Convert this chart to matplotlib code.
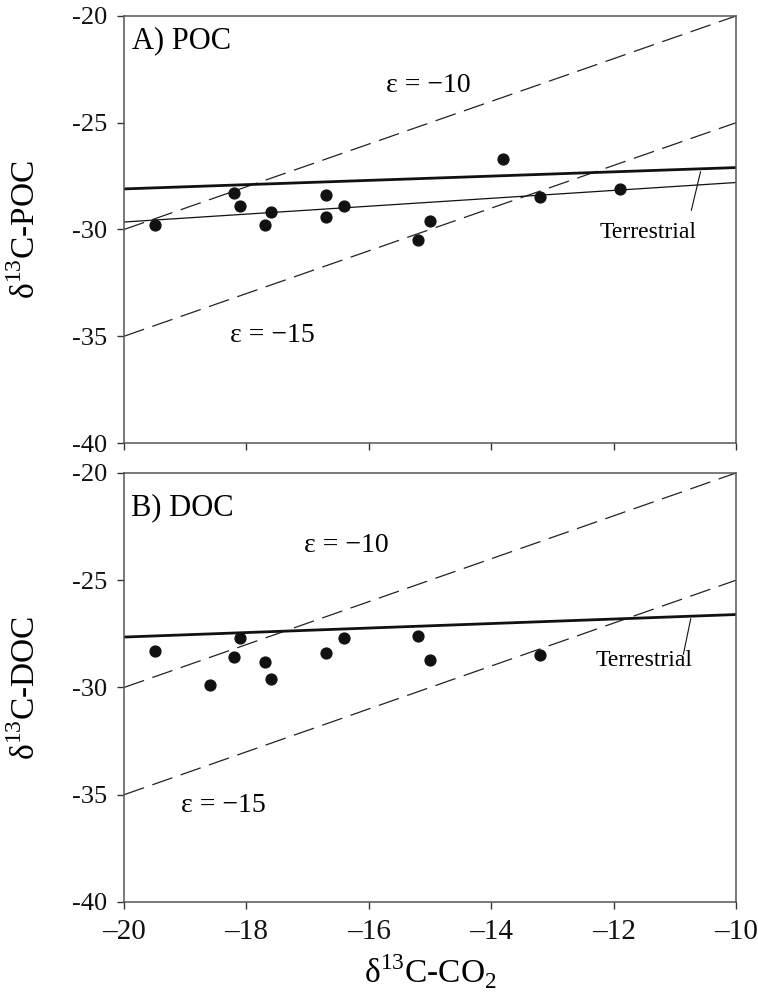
import matplotlib
matplotlib.use("Agg")
import matplotlib.pyplot as plt
from matplotlib.ticker import FuncFormatter

plt.rcParams['font.family'] = ['Liberation Serif', 'DejaVu Serif']
plt.rcParams['mathtext.fontset'] = 'custom'
plt.rcParams['mathtext.rm'] = 'Liberation Serif'

# Panel A: POC
poc_x = [-19.5, -18.2, -18.1, -17.6, -17.7, -16.7, -16.7, -16.4, -15.2, -15.0, -13.8, -13.2, -11.9]
poc_y = [-29.8, -28.3, -28.9, -29.2, -29.8, -28.4, -29.4, -28.9, -30.5, -29.6, -26.7, -28.5, -28.1]
poc_terr = [-28.1, -27.1]      # thick terrestrial line at x=-20, -10
poc_fit = [-29.65, -27.8]      # thin regression line at x=-20, -10

# Panel B: DOC
doc_x = [-19.5, -18.6, -18.2, -18.1, -17.7, -17.6, -16.7, -16.4, -15.2, -15.0, -13.2]
doc_y = [-28.3, -29.9, -28.6, -27.7, -28.8, -29.6, -28.4, -27.7, -27.6, -28.7, -28.5]
doc_terr = [-27.65, -26.6]

line_x = [-20, -10]
eps = [-10, -15]

xticks = [-20, -18, -16, -14, -12, -10]
yticks = [-40, -35, -30, -25, -20]

fig = plt.figure(figsize=(7.58, 9.98), dpi=100)
axA = fig.add_axes([0.1636, 0.5561, 0.8074, 0.4279])
axB = fig.add_axes([0.1636, 0.0962, 0.8074, 0.4299])

def style(ax):
    ax.set_xlim(-20, -10)
    ax.set_ylim(-40, -20)
    ax.set_xticks(xticks)
    ax.set_yticks(yticks)
    ax.tick_params(direction='out', length=5, width=1, colors='#333333',
                   labelcolor='#111111')
    ax.tick_params(axis='y', labelsize=19, pad=7)
    ax.tick_params(axis='x', labelsize=21, pad=7)
    ax.yaxis.set_major_formatter(FuncFormatter(lambda v, p: f"{int(v)}"))
    ax.xaxis.set_major_formatter(FuncFormatter(lambda v, p: f"{int(v)}".replace('-', '\u2013')))
    for s in ax.spines.values():
        s.set_color('#555555')
        s.set_linewidth(1.1)

def draw(ax, xs, ys, terr, fit=None):
    for e in eps:
        ax.plot(line_x, [line_x[0] + e, line_x[1] + e], color='#222222', lw=0.9,
                dashes=(17, 7))
    ax.plot(line_x, terr, color='#111111', lw=2.0)
    if fit is not None:
        ax.plot(line_x, fit, color='#111111', lw=0.9)
    ax.plot(xs, ys, 'o', color='#111111', markersize=7.8, zorder=5, clip_on=False)

style(axA)
draw(axA, poc_x, poc_y, poc_terr, poc_fit)
axA.tick_params(labelbottom=False)
axA.text(-19.87, -21.52, 'A) POC', fontsize=22, va='baseline', ha='left')
axA.text(-15.02, -23.54, '\u03b5 = \u221210', fontsize=20, ha='center', va='baseline')
axA.text(-17.58, -35.25, '\u03b5 = \u221215', fontsize=20, ha='center', va='baseline')
axA.text(-12.23, -30.41, 'Terrestrial', fontsize=17, ha='left', va='baseline')
axA.plot([-10.73, -10.58], [-29.1, -27.3], color='#111111', lw=0.8)
axA.set_ylabel('\u03b4$^{13}$C-POC', fontsize=24)
axA.yaxis.set_label_coords(-0.134, 0.5)

style(axB)
draw(axB, doc_x, doc_y, doc_terr)
axB.text(-19.88, -21.96, 'B) DOC', fontsize=22, va='baseline', ha='left')
axB.text(-16.37, -23.67, '\u03b5 = \u221210', fontsize=20, ha='center', va='baseline')
axB.text(-18.38, -35.79, '\u03b5 = \u221215', fontsize=20, ha='center', va='baseline')
axB.text(-12.3, -29.0, 'Terrestrial', fontsize=17, ha='left', va='baseline')
axB.plot([-10.86, -10.74], [-28.45, -26.8], color='#111111', lw=0.8)
axB.set_ylabel('\u03b4$^{13}$C-DOC', fontsize=24)
axB.yaxis.set_label_coords(-0.134, 0.5)
axB.set_xlabel('\u03b4$^{13}$C-CO$_2$', fontsize=24)
axB.xaxis.set_label_coords(0.5, -0.118)

fig.savefig('out.png', dpi=100)
